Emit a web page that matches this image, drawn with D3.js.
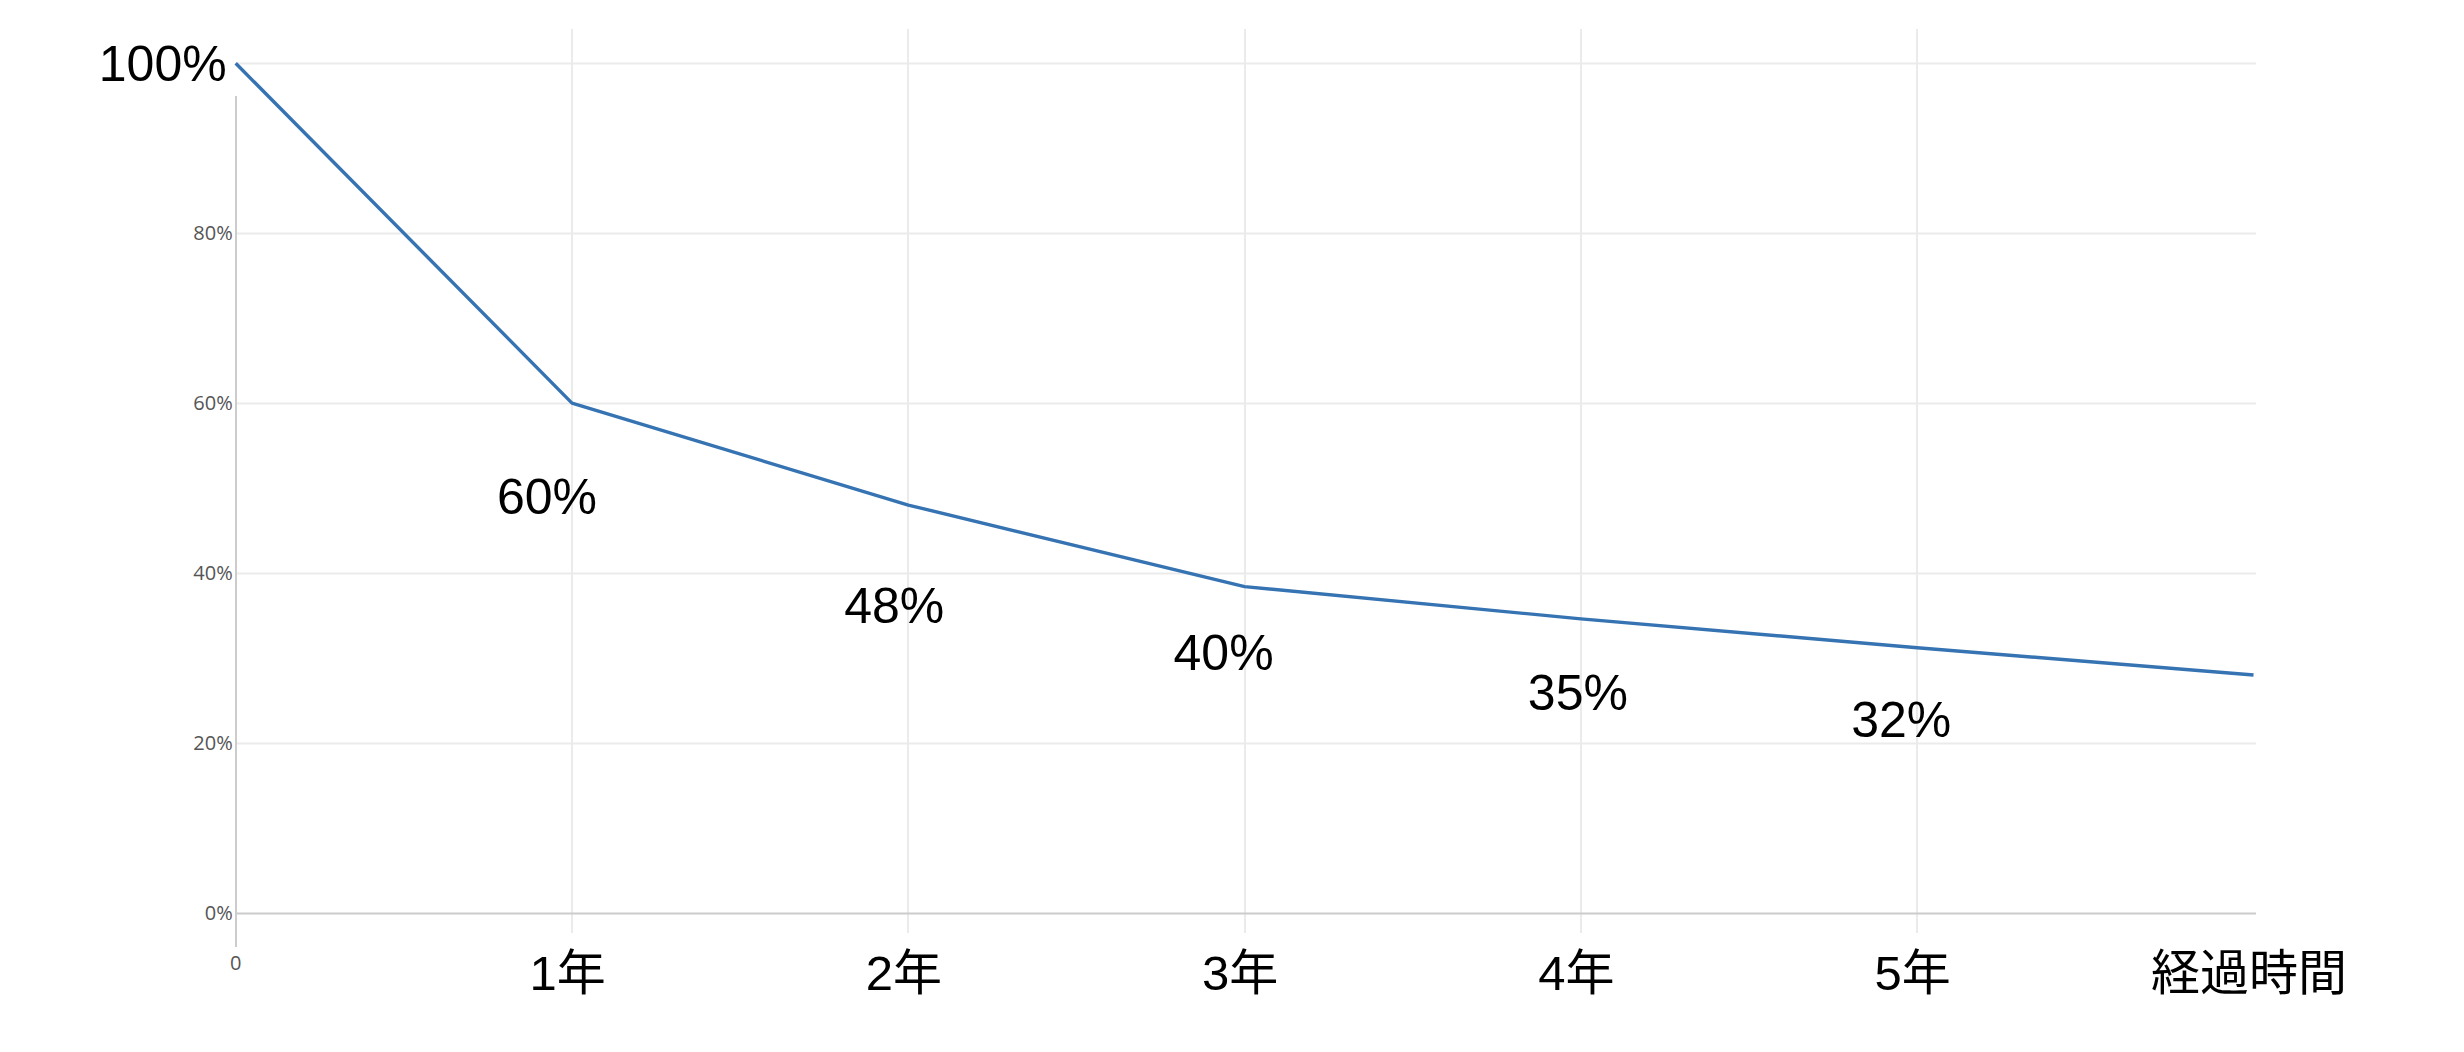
<!DOCTYPE html>
<html>
<head>
<meta charset="utf-8">
<script src="https://cdn.jsdelivr.net/npm/d3@7"></script>
<style>
html,body{margin:0;padding:0;background:#fff;}
svg{display:block;}
</style>
</head>
<body>
<svg id="chart" width="2464" height="1052"></svg>
<script>
// ---- data ----
const years = [0, 1, 2, 3, 4, 5, 6];
const retention = [100, 60, 48, 38.4, 34.6, 31.2, 28];
const xTickValues = [1, 2, 3, 4, 5, 6];
const xTickLabels = ["1年", "2年", "3年", "4年", "5年", "経過時間"];
const yTickValues = [0, 20, 40, 60, 80];
const annoIndex = [0, 1, 2, 3, 4, 5];
const annoText = ["100%", "60%", "48%", "40%", "35%", "32%"];
// annotation layout (pixel offsets from the point)
const annoDx = [-9, -25, -14, -21, -3, -16];
const annoDy = [18, 111, 118, 83, 91, 89];

const svg = d3.select("#chart");
const x = d3.scaleLinear().domain([0, 6]).range([235.7, 2253.5]);
const y = d3.scaleLinear().domain([0, 100]).range([912.8, 63.3]);

const latin = "'Liberation Sans', Arial, Helvetica, 'Noto Sans CJK JP', sans-serif";
const small = "'Open Sans', 'Noto Sans', sans-serif";

// horizontal gridlines
svg.append("g").selectAll("line").data([20, 40, 60, 80, 100]).join("line")
  .attr("x1", x(0)).attr("x2", 2256)
  .attr("y1", d => Math.round(y(d)) + 0.5).attr("y2", d => Math.round(y(d)) + 0.5)
  .attr("stroke", "#ebebeb").attr("stroke-width", 2);

// vertical gridlines
svg.append("g").selectAll("line").data(xTickValues.slice(0, 5)).join("line")
  .attr("x1", d => Math.round(x(d))).attr("x2", d => Math.round(x(d)))
  .attr("y1", 29).attr("y2", 933)
  .attr("stroke", "#ebebeb").attr("stroke-width", 2);

// baseline (0%)
svg.append("line")
  .attr("x1", x(0)).attr("x2", 2256)
  .attr("y1", Math.round(y(0)) + 0.5).attr("y2", Math.round(y(0)) + 0.5)
  .attr("stroke", "#cccccc").attr("stroke-width", 2);

// y axis line
svg.append("line")
  .attr("x1", Math.round(x(0))).attr("x2", Math.round(x(0)))
  .attr("y1", 96).attr("y2", 947)
  .attr("stroke", "#cccccc").attr("stroke-width", 2);

// y tick labels
const yAxis = d3.axisLeft(y).tickValues(yTickValues).tickFormat(d => d + "%").tickSize(0).tickPadding(3);
const yg = svg.append("g").attr("transform", `translate(${x(0)},0)`).call(yAxis);
yg.select(".domain").remove();
yg.selectAll("text").attr("font-family", small).attr("font-size", 20).attr("fill", "#555");

// "0" label under the axis
svg.append("text").attr("x", x(0)).attr("y", 963).attr("dy", "0.35em")
  .attr("text-anchor", "middle").attr("font-family", small).attr("font-size", 20).attr("fill", "#555")
  .text("0");

// x tick labels
const xAxis = d3.axisBottom(x).tickValues(xTickValues).tickFormat((d, i) => xTickLabels[i]).tickSize(0).tickPadding(0);
const xg = svg.append("g").attr("transform", "translate(-5,990)").call(xAxis);
xg.select(".domain").remove();
xg.selectAll("text").attr("dy", 0).attr("y", 0)
  .attr("font-family", latin).attr("font-size", 49).attr("fill", "#000");

// line
const line = d3.line().x((d, i) => x(years[i])).y(d => y(d));
svg.append("path").datum(retention)
  .attr("d", line).attr("fill", "none")
  .attr("stroke", "#3673b2").attr("stroke-width", 3.4).attr("stroke-linejoin", "round");

// annotations
svg.append("g").selectAll("text").data(annoIndex).join("text")
  .attr("x", (d, i) => x(years[d]) + annoDx[i])
  .attr("y", (d, i) => y(retention[d]) + annoDy[i])
  .attr("text-anchor", (d, i) => i === 0 ? "end" : "middle")
  .attr("font-family", latin).attr("font-size", 50).attr("fill", "#000")
  .text((d, i) => annoText[i]);
</script>
</body>
</html>
